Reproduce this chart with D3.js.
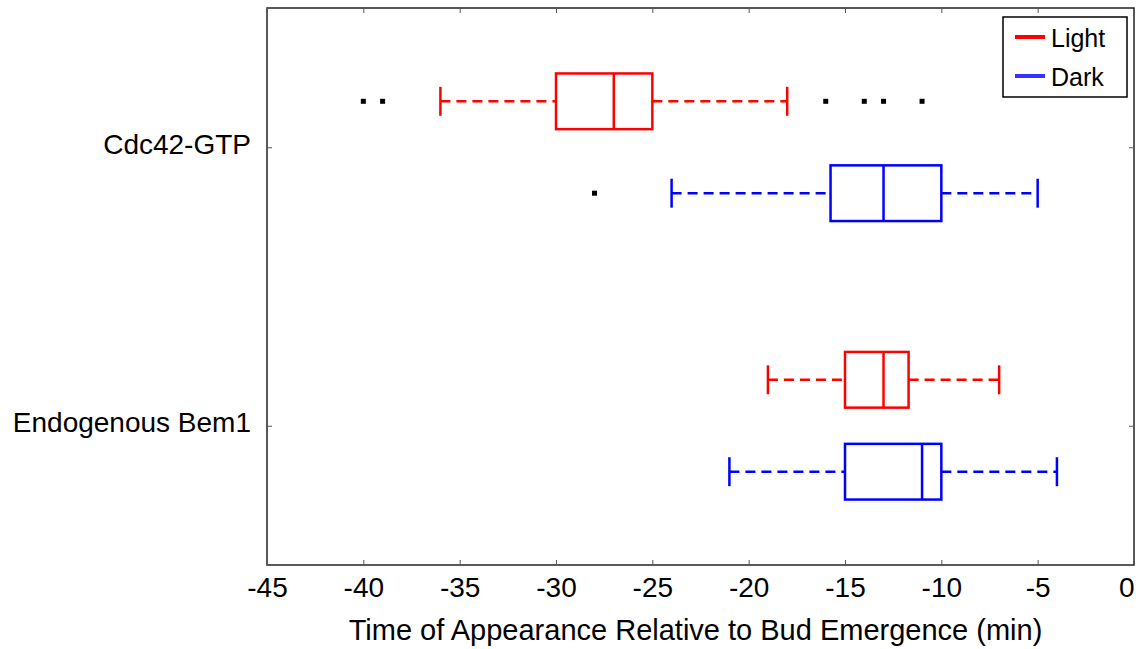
<!DOCTYPE html>
<html>
<head>
<meta charset="utf-8">
<script src="https://cdn.jsdelivr.net/npm/d3@7"></script>
<style>
  body { margin: 0; background: #fff; }
  svg { font-family: "Liberation Sans", Arial, Helvetica, sans-serif; }
</style>
</head>
<body>
<svg id="chart" width="1139" height="649"></svg>
<script>
// данные
const categories = ['Cdc42-GTP', 'Endogenous Bem1'];
const series = ['Light', 'Dark'];
const seriesColors = ['#ff0000', '#0000ff'];
const legendColors = ['#ff0000', '#3333ff'];
const xTicks = [-45, -40, -35, -30, -25, -20, -15, -10, -5, 0];

// [нижний ус, Q1, медиана, Q3, верхний ус]
const lightStats = [[-36, -30, -27, -25, -18], [-19, -15, -13, -11.7, -7]];
const darkStats = [[-24, -15.75, -13, -10, -5], [-21, -15, -11, -10, -4]];
const lightOutliers = [[-40, -39, -16, -14, -13, -11], []];
const darkOutliers = [[-28], []];

const margin = { left: 267, right: 5, top: 8, bottom: 84 };
const width = 1139, height = 649;
const svg = d3.select('#chart');

const x = d3.scaleLinear().domain([-45, 0]).range([margin.left, width - margin.right]);
const y = d3.scalePoint().domain(categories).range([margin.top, height - margin.bottom]).padding(0.5);
const sub = d3.scalePoint().domain(series).range([-y.step() * 0.165, y.step() * 0.165]);

const boxHalf = y.step() * 0.1;
const capHalf = y.step() * 0.052;

// рамка и оси
const plotTop = margin.top, plotBottom = height - margin.bottom;
svg.append('rect')
  .attr('x', x(-45)).attr('y', plotTop)
  .attr('width', x(0) - x(-45)).attr('height', plotBottom - plotTop)
  .attr('fill', 'none').attr('stroke', '#222').attr('stroke-width', 1.5);

const xAxis = svg.append('g')
  .attr('transform', `translate(0,${plotBottom})`)
  .call(d3.axisBottom(x).tickValues(xTicks).tickSizeInner(-5).tickSizeOuter(0)
    .tickPadding(12).tickFormat(d => String(d)));
xAxis.select('.domain').remove();
xAxis.selectAll('line').attr('stroke', '#555');
xAxis.selectAll('text').attr('font-size', 28).attr('fill', '#000');
// последняя метка прижата к краю
xAxis.selectAll('.tick').filter(d => d === 0).select('text')
  .attr('text-anchor', 'end').attr('x', 0);

const xTop = svg.append('g')
  .attr('transform', `translate(0,${plotTop})`)
  .call(d3.axisTop(x).tickValues(xTicks).tickSizeInner(-5).tickSizeOuter(0).tickFormat(''));
xTop.select('.domain').remove();
xTop.selectAll('line').attr('stroke', '#555');

const yAxis = svg.append('g')
  .attr('transform', `translate(${x(-45)},0)`)
  .call(d3.axisLeft(y).tickSizeInner(-5).tickSizeOuter(0).tickPadding(16));
yAxis.select('.domain').remove();
yAxis.selectAll('line').attr('stroke', '#555');
yAxis.selectAll('text').attr('font-size', 28).attr('fill', '#000').attr('dy', '0.22em');

const yRight = svg.append('g')
  .attr('transform', `translate(${x(0)},0)`)
  .call(d3.axisRight(y).tickSizeInner(-5).tickSizeOuter(0).tickFormat(''));
yRight.select('.domain').remove();
yRight.selectAll('line').attr('stroke', '#555');

svg.append('text')
  .attr('x', (x(-45) + x(0)) / 2 - 5).attr('y', 640)
  .attr('text-anchor', 'middle').attr('font-size', 29)
  .text('Time of Appearance Relative to Bud Emergence (min)');

// ящики с усами
const allStats = [lightStats, darkStats];
const allOutliers = [lightOutliers, darkOutliers];

series.forEach((s, si) => {
  const color = seriesColors[si];
  categories.forEach((c, ci) => {
    const [lo, q1, med, q3, hi] = allStats[si][ci];
    const cy = y(c) + sub(s);
    const g = svg.append('g').attr('stroke', color).attr('stroke-width', 2.5).attr('fill', 'none');

    // усы (пунктир)
    g.append('line').attr('x1', x(lo)).attr('x2', x(q1)).attr('y1', cy).attr('y2', cy)
      .attr('stroke-dasharray', '10,6');
    g.append('line').attr('x1', x(q3)).attr('x2', x(hi)).attr('y1', cy).attr('y2', cy)
      .attr('stroke-dasharray', '10,6');
    // засечки
    [lo, hi].forEach(v => {
      g.append('line').attr('x1', x(v)).attr('x2', x(v))
        .attr('y1', cy - capHalf).attr('y2', cy + capHalf);
    });
    // ящик
    g.append('rect').attr('x', x(q1)).attr('y', cy - boxHalf)
      .attr('width', x(q3) - x(q1)).attr('height', boxHalf * 2);
    // медиана
    g.append('line').attr('x1', x(med)).attr('x2', x(med))
      .attr('y1', cy - boxHalf).attr('y2', cy + boxHalf);

    // выбросы
    svg.selectAll(null)
      .data(allOutliers[si][ci])
      .enter()
      .append('rect')
      .attr('x', d => x(d) - 2.5).attr('y', cy - 2.5)
      .attr('width', 5).attr('height', 5)
      .attr('fill', '#000');
  });
});

// легенда
const legend = svg.append('g').attr('transform', 'translate(1003,17)');
legend.append('rect').attr('width', 124).attr('height', 80)
  .attr('fill', '#fff').attr('stroke', '#000').attr('stroke-width', 1.5);
series.forEach((s, i) => {
  const ly = 20 + i * 39;
  legend.append('line').attr('x1', 12).attr('x2', 42).attr('y1', ly).attr('y2', ly)
    .attr('stroke', legendColors[i]).attr('stroke-width', 4);
  legend.append('text').attr('x', 48).attr('y', ly + 9.5)
    .attr('font-size', 25).text(s);
});
</script>
</body>
</html>
